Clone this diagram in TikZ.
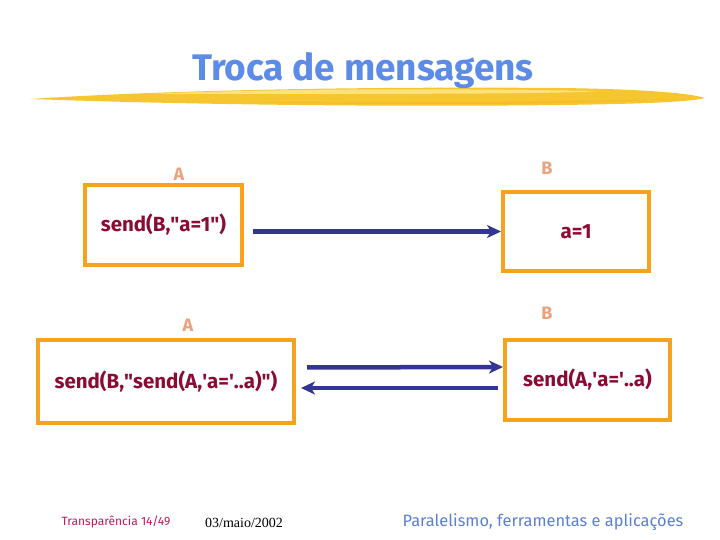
\documentclass[tikz,border=0pt]{standalone}
\usepackage{fontspec}
\setmainfont{Fira Sans}
\newfontfamily\datefont{Liberation Serif}
\usetikzlibrary{positioning, arrows.meta}
\definecolor{frame}{HTML}{F5A31C}
\definecolor{proc}{HTML}{E9A27E}
\definecolor{code}{HTML}{8A0C32}
\definecolor{msg}{HTML}{333594}
\definecolor{title}{HTML}{5C8CE8}
\definecolor{brush}{HTML}{F6C630}
\definecolor{brushlt}{HTML}{FCE27A}
\definecolor{foot}{HTML}{C01A5C}
\definecolor{footblue}{HTML}{5A80D2}

\newcommand{\dq}{\textquotedbl}
\newcommand{\sq}{\textquotesingle}

\tikzset{
  procbox/.style={draw=frame, line width=4pt, fill=white, inner sep=0pt,
                  text=code, font=\bfseries\fontsize{20.5}{22}\selectfont},
  proclabel/.style={text=proc, inner sep=0pt, font=\bfseries\fontsize{18}{19}\selectfont},
  msgarrow/.style={draw=msg, line width=4.5pt,
                   -{Stealth[length=14pt, width=13pt, inset=4pt]}}
}

\begin{document}
\begin{tikzpicture}[x=1pt, y=-1pt]
  \useasboundingbox (0,0) rectangle (720,540);

  % Title with its yellow brush stroke.
  \fill[brush] (30,99) .. controls (120,93) and (300,86) .. (560,88)
    .. controls (640,89) and (690,93) .. (705,98)
    .. controls (690,102) and (640,104) .. (560,105)
    .. controls (400,107) and (200,105) .. (30,99) -- cycle;
  \fill[brushlt] (150,94) .. controls (260,89) and (420,88) .. (600,91)
    .. controls (560,94) and (420,94) .. (150,94) -- cycle;
  \fill[brush!85!orange] (200,101) .. controls (320,103) and (480,103) .. (680,99)
    .. controls (560,105) and (380,106) .. (200,101) -- cycle;
  \node[text=title, font=\bfseries\fontsize{37}{39}\selectfont] (ttl) at (363,71) {Troca de mensagens};

  % First exchange: A sends a plain value to B.
  \node[procbox, minimum width=157pt, minimum height=80pt] (A1) at (163.5,225) {send(B,\dq a=1\dq)};
  \node[procbox, minimum width=146pt, minimum height=79pt] (B1) at (576,231.5) {a=1};
  \node[proclabel] (lblA1) at (179,174) {A};
  \node[proclabel] (lblB1) at (547,168) {B};
  \draw[msgarrow, shorten <=9pt] (A1.east |- B1.west) -- (B1.west);

  % Second exchange: A sends code that B sends back.
  \node[procbox, minimum width=256pt, minimum height=83pt] (A2) at (166,381.5) {send(B,\dq send(A,\sq a=\sq..a)\dq)};
  \node[procbox, minimum width=165pt, minimum height=80pt] (B2) at (587.5,380) {send(A,\sq a=\sq..a)};
  \node[proclabel] (lblA2) at (188,325) {A};
  \node[proclabel] (lblB2) at (547,313) {B};
  \draw[msgarrow, shorten <=11pt] ([yshift=14pt]A2.east) -- ([yshift=13pt]B2.west);
  \draw[msgarrow, shorten <=5pt, shorten >=5pt] ([yshift=-8pt]B2.west) -- ([yshift=-6.5pt]A2.east);

  % Footer.
  \node[text=foot, font=\fontsize{12}{14}\selectfont] (page) at (116,522) {Transparência 14/49};
  \node[font=\datefont\fontsize{14}{16}\selectfont] (date) at (244,523) {03/maio/2002};
  \node[text=footblue, font=\fontsize{16.4}{18}\selectfont] (course) at (543,522) {Paralelismo, ferramentas e aplicações};
\end{tikzpicture}
\end{document}
